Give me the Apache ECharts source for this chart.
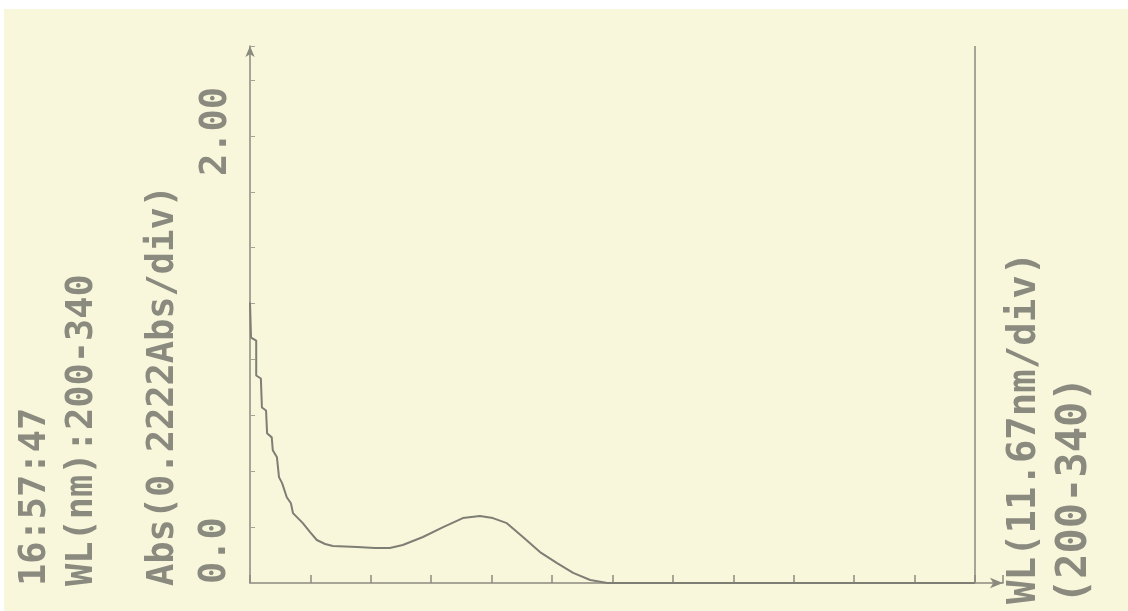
<!DOCTYPE html>
<html>
<head>
<meta charset="utf-8">
<script src="https://cdn.jsdelivr.net/npm/echarts@6/dist/echarts.min.js"></script>
<style>
  html, body { margin: 0; padding: 0; background: #ffffff; }
  #chart { width: 1128px; height: 611px; }
</style>
</head>
<body>
<div id="chart"></div>
<script>
// Wavelength (nm) and absorbance
var wavelengths = [200.0, 200.2, 201.2, 201.2, 202.1, 202.3, 203.1, 203.3, 204.2, 204.4, 205.2, 205.6, 206.2, 207.1, 207.9, 208.3, 210.2, 211.6, 212.9, 214.5, 216.0, 220.7, 224.1, 227.0, 229.5, 233.4, 237.3, 241.1, 244.4, 246.9, 249.6, 252.7, 256.0, 259.3, 262.4, 265.7, 269.0, 280, 300, 320, 340];
var absorbance = [1.115, 0.976, 0.964, 0.825, 0.813, 0.698, 0.686, 0.595, 0.579, 0.528, 0.500, 0.421, 0.397, 0.341, 0.317, 0.278, 0.238, 0.202, 0.171, 0.155, 0.147, 0.143, 0.139, 0.139, 0.151, 0.183, 0.222, 0.258, 0.266, 0.258, 0.238, 0.183, 0.123, 0.079, 0.040, 0.012, 0.0, 0, 0, 0, 0];

var wlMin = 200, wlMax = 340, wlDiv = 11.67;
var absMin = 0, absDiv = 0.2222;
var yLabelMin = '0.0', yLabelMax = '2.00';
var headerTime = '16:57:47';
var headerRange = 'WL(nm):200-340';
var yTitle = 'Abs(0.2222Abs/div)';
var xTitle = 'WL(11.67nm/div)';
var xRange = '(200-340)';

var ink = '#8a8a7f';
var data = wavelengths.map(function (w, i) { return [w, absorbance[i]]; });

var chart = echarts.init(document.getElementById('chart'));
var monoL = 'bold 37px "DejaVu Sans Mono", monospace';
var monoR = 'bold 39px "DejaVu Sans Mono", monospace';
var monoR2 = 'bold 42px "DejaVu Sans Mono", monospace';

function vtext(x, y, t, font) {
  return {
    type: 'text', x: x, y: y, rotation: Math.PI / 2,
    style: { text: t, font: font, fill: ink, align: 'left', verticalAlign: 'middle' }
  };
}

chart.setOption({
  backgroundColor: '#f8f7dc',
  animation: false,
  grid: { left: 250, top: 46, width: 753, height: 537 },
  xAxis: {
    type: 'value', min: wlMin, max: wlMin + 753 / 725 * (wlMax - wlMin),
    interval: (wlMax - wlMin) / 12,
    axisLine: { show: true, symbol: ['none', 'arrow'], symbolSize: [8, 13], lineStyle: { color: ink, width: 1.5 } },
    axisTick: { show: true, inside: true, length: 8, lineStyle: { color: ink, width: 1.5 } },
    axisLabel: { show: false },
    splitLine: { show: false }
  },
  yAxis: {
    type: 'value', min: absMin, max: 537 / 251.5,
    interval: absDiv,
    axisLine: { show: true, symbol: ['none', 'arrow'], symbolSize: [7, 11], lineStyle: { color: ink, width: 1.5 } },
    axisTick: { show: true, inside: true, length: 5, lineStyle: { color: '#a5a597', width: 1 } },
    axisLabel: { show: false },
    splitLine: { show: false }
  },
  series: [{
    type: 'line',
    data: data,
    showSymbol: false,
    lineStyle: { color: '#7e7e75', width: 2 },
    markLine: {
      silent: true, symbol: ['none', 'none'],
      label: { show: false },
      lineStyle: { color: ink, width: 1.5, type: 'solid' },
      data: [{ xAxis: wlMax }]
    }
  }],
  graphic: [
    { type: 'rect', shape: { x: 0, y: 0, width: 1128, height: 9 }, style: { fill: '#ffffff' } },
    { type: 'rect', shape: { x: 0, y: 0, width: 4, height: 611 }, style: { fill: '#ffffff' } },
    vtext(35, 586, headerTime, monoL),
    vtext(82, 586, headerRange, monoL),
    vtext(163, 586, yTitle, monoL),
    vtext(215, 584, yLabelMin, monoL),
    vtext(216, 176, yLabelMax, monoL),
    vtext(1025, 604, xTitle, monoR),
    vtext(1075, 604, xRange, monoR2)
  ]
});
</script>
</body>
</html>
